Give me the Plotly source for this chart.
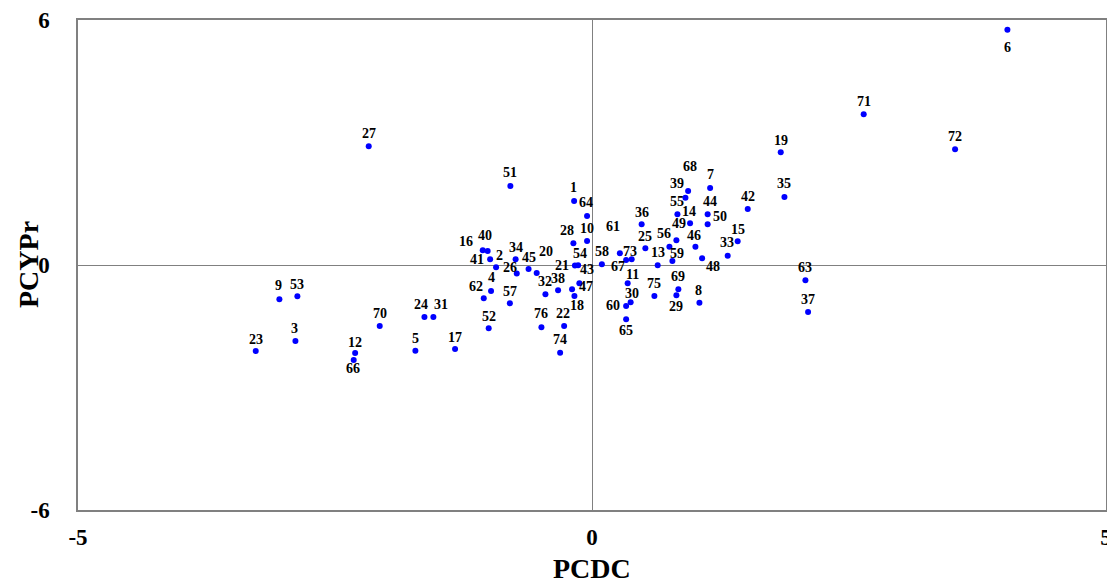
import plotly.graph_objects as go

# ---- data ----
ids = list(range(1, 77))
pcdc = [-0.174, -0.933, -2.885, -0.982, -1.718, 4.041, 1.149, 1.045, -3.041, -0.048,
        0.347, -2.304, 0.639, 0.954, 1.417, -1.063, -1.332, -0.171, 1.836, -0.538,
        -0.166, -0.271, -3.271, -1.630, 0.519, -0.732, -2.172, -0.181, 0.821, 0.376,
        -1.543, -0.453, 1.320, -0.743, 1.872, 0.483, 2.102, -0.330, 0.909, -1.015,
        -0.991, 1.515, -0.123, 1.125, -0.617, 1.006, -0.194, 1.071, 0.821, 1.125,
        -0.794, -1.005, -2.866, -0.135, 0.831, 0.753, -0.799, 0.096, 0.782, 0.332,
        0.271, -1.053, 2.076, -0.048, 0.332, -2.318, 0.332, 0.935, 0.840, -2.065,
        2.643, 3.532, 0.386, -0.310, 0.607, -0.492]
pcypr = [1.569, -0.056, -1.863, -0.637, -2.100, 5.760, 1.887, -0.924, -0.841, 0.588,
         -0.449, -2.157, -0.007, 1.022, 0.581, 0.360, -2.059, -0.760, 2.762, -0.196,
         -0.012, -1.495, -2.108, -1.275, 0.409, -0.208, 2.909, 0.532, -0.743, -0.914,
         -1.275, -0.718, 0.228, 0.142, 1.667, 0.998, -1.152, -0.620, 1.650, 0.343,
         0.140, 1.373, -0.449, 1.243, -0.098, 0.449, -0.593, 0.164, 0.605, 0.998,
         1.936, -1.551, -0.767, -0.005, 1.243, 0.449, -0.939, 0.017, 0.098, -1.005,
         0.287, -0.816, -0.375, 1.201, -1.331, -2.328, 0.123, 1.814, -0.596, -1.495,
         3.694, 2.836, 0.140, -2.150, -0.760, -1.527]

x_ticks = [-5, 0, 5]
y_ticks = [-6, 0, 6]
x_title = "PCDC"
y_title = "PCYPr"

# ---- label placement offsets in pixels (style) ----
label_dx = [-1, 3, -1, 0, 0, 0, 0, -1, -1, 0,
            5, 0, 0, -1, 0, -17, 0, 3, 0, 9,
            -13, -1, 0, -3, 0, -7, 0, -6, 0, 1,
            8, 0, -1, 0, 0, 0, 0, 0, -8, -3,
            -13, 0, 8, 2, 0, -1, 14, 11, 3, 12,
            0, 0, 0, 2, 0, -5, 0, 0, 5, -13,
            -7, -8, 0, -1, 0, -1, -8, 2, 0, 0,
            0, 0, -2, 0, 0, 0]
label_dy = [-13, -12, -13, -14, -12, 18, -13, -12, -14, -12,
            -9, -11, -13, -12, -12, -9, -12, 9, -12, -22,
            0, -13, -12, -13, -12, -6, -13, -13, 11, -9,
            -13, -13, -13, -12, -13, -12, -13, -12, -14, -15,
            0, -12, -14, -13, -12, -11, -3, 8, -17, -8,
            -13, -12, -12, -12, -13, -13, -12, -13, -8, -1,
            -27, -12, -13, -13, 11, 8, 7, -24, -13, -13,
            -13, -13, -8, -13, -13, -14]

serif = "Liberation Serif, Times New Roman, serif"

fig = go.Figure()
fig.add_trace(go.Scatter(
    x=pcdc, y=pcypr, mode="markers",
    marker=dict(color="#0000FF", size=6, line=dict(width=0)),
    text=[str(i) for i in ids], hoverinfo="text", showlegend=False,
))

for i, xv, yv, dx, dy in zip(ids, pcdc, pcypr, label_dx, label_dy):
    fig.add_annotation(x=xv, y=yv, text=f"<b>{i}</b>", showarrow=False,
                       xanchor="center", yanchor="middle",
                       xshift=dx, yshift=-dy,
                       font=dict(family=serif, size=14, color="black"))

# axis titles
fig.add_annotation(xref="paper", yref="paper", x=0.5, y=0, yshift=-58,
                   text=f"<b>{x_title}</b>", showarrow=False,
                   xanchor="center", yanchor="middle",
                   font=dict(family=serif, size=28, color="black"))
fig.add_annotation(xref="paper", yref="paper", x=0, y=0.5, xshift=-50,
                   text=f"<b>{y_title}</b>", showarrow=False, textangle=-90,
                   xanchor="center", yanchor="middle",
                   font=dict(family=serif, size=28, color="black"))

axis_common = dict(
    showgrid=False, zeroline=True, zerolinecolor="#808080", zerolinewidth=1,
    showline=True, linecolor="#808080", linewidth=1.5, mirror=True,
    ticks="", tickfont=dict(family=serif, size=23, color="black"),
    automargin=False,
)

fig.update_xaxes(range=[-5, 5], tickvals=x_ticks, ticktext=[f"<b>{v}</b>" for v in x_ticks],
                 ticklabelstandoff=6, **axis_common)
fig.update_yaxes(range=[-6, 6], tickvals=y_ticks, ticktext=[f"<b>{v}</b>" for v in y_ticks],
                 ticklabelstandoff=22, **axis_common)

fig.update_layout(
    width=1107, height=578,
    margin=dict(l=70, r=9, t=12, b=76),
    plot_bgcolor="white", paper_bgcolor="white",
)

fig.write_html("out.html")
